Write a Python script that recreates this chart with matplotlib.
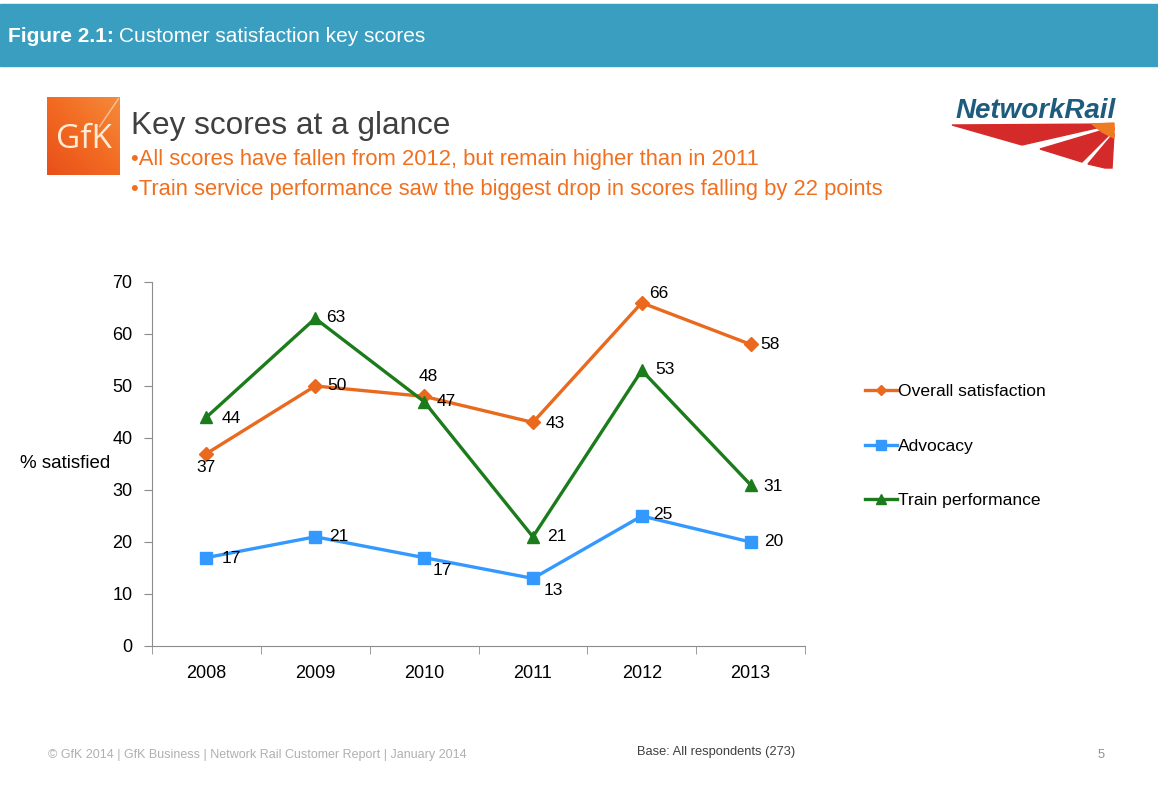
import numpy as np
import matplotlib.pyplot as plt
from matplotlib.patches import Rectangle, Polygon
from matplotlib.colors import LinearSegmentedColormap

plt.rcParams['font.family'] = ['Liberation Sans', 'DejaVu Sans']

years = ['2008', '2009', '2010', '2011', '2012', '2013']
overall = [37, 50, 48, 43, 66, 58]
advocacy = [17, 21, 17, 13, 25, 20]
train = [44, 63, 47, 21, 53, 31]

# label offsets (points) for each value
overall_off = [(0, -10), (16, 0), (3, 14), (16, -1), (12, 7), (14, 0)]
advocacy_off = [(18, -1), (17, 0), (13, -9), (15, -9), (15, 1), (17, 0)]
train_off = [(18, -1), (15, 1), (16, 0), (17, 0), (17, 1), (16, -1)]

orange = '#E9691E'
blue = '#3399FF'
green = '#1C7C1C'
grey = '#8C8C8C'

fig = plt.figure(figsize=(11.58, 8), dpi=100)


def fx(px):
    return px / 1158


def fy(py):
    return 1 - py / 800


# header bar
fig.patches.append(Rectangle((0, fy(66)), 1, 62 / 800, transform=fig.transFigure,
                             color='#3A9EC0', zorder=0))
fig.text(fx(8), fy(36), 'Figure 2.1:', color='white', fontsize=15,
         fontweight='bold', va='center')
fig.text(fx(119), fy(36), 'Customer satisfaction key scores', color='white',
         fontsize=15, va='center')

# GfK logo: orange square with a diagonal gradient
logo = fig.add_axes([fx(47), fy(175), 73 / 1158, 78 / 800])
gx, gy = np.meshgrid(np.linspace(0, 1, 60), np.linspace(0, 1, 60))
cmap = LinearSegmentedColormap.from_list('gfk', ['#E8501A', '#F26A22', '#F58A3A'])
logo.imshow(gx * 0.5 + gy * 0.5, cmap=cmap, origin='lower', extent=(0, 1, 0, 1),
            aspect='auto')
logo.plot([0.72, 0.98], [0.62, 0.98], color='#FBD2B0', lw=1, alpha=0.8)
logo.text(0.5, 0.46, 'GfK', color='#FDEBD5', fontsize=24, ha='center', va='center',
          family=['Open Sans', 'DejaVu Sans'])
logo.set_xlim(0, 1)
logo.set_ylim(0, 1)
logo.axis('off')

# headline
fig.text(fx(131), fy(126), 'Key scores at a glance', color='#404040',
         fontsize=22.7, va='center')
fig.text(fx(131), fy(160),
         '•All scores have fallen from 2012, but remain higher than in 2011',
         color='#F07020', fontsize=15.8, va='center')
fig.text(fx(131), fy(189),
         '•Train service performance saw the biggest drop in scores falling by 22 points',
         color='#F07020', fontsize=15.8, va='center')

# Network Rail logo
fig.text(fx(1036), fy(111), 'NetworkRail', color='#1D5C7C', fontsize=20,
         fontweight='bold', fontstyle='italic', ha='center', va='center')
swoosh = [
    [(952, 125), (1114, 124), (1022, 145)],
    [(1040, 149), (1114, 127), (1114, 130), (1082, 162)],
    [(1088, 164), (1114, 133), (1112, 168), (1105, 168)],
]
for pts in swoosh:
    fig.patches.append(Polygon([(fx(x), fy(y)) for x, y in pts], closed=True,
                               transform=fig.transFigure, color='#D42A2A', zorder=1))
fig.patches.append(Polygon([(fx(1092), fy(124)), (fx(1114), fy(123)), (fx(1114), fy(138)),
                            (fx(1102), fy(132))], closed=True, transform=fig.transFigure,
                           color='#EE7A22', zorder=2))

# chart
ax = fig.add_axes([fx(152), 154 / 800, 653 / 1158, 364 / 800])
x = list(range(len(years)))
ax.plot(x, overall, color=orange, lw=2.4, marker='D', ms=7, label='Overall satisfaction')
ax.plot(x, advocacy, color=blue, lw=2.4, marker='s', ms=9, label='Advocacy')
ax.plot(x, train, color=green, lw=2.4, marker='^', ms=9, label='Train performance')

for vals, offs in [(overall, overall_off), (advocacy, advocacy_off), (train, train_off)]:
    for i, (v, o) in enumerate(zip(vals, offs)):
        ax.annotate(str(v), (i, v), xytext=o, textcoords='offset points',
                    ha='center', va='center', fontsize=12.5, color='black')

ax.set_xlim(-0.5, 5.5)
ax.set_ylim(0, 70)
ax.set_yticks(range(0, 71, 10))
ax.set_xticks(x)
ax.set_xticklabels(years)
ax.set_xticks([i - 0.5 for i in range(7)], minor=True)
ax.tick_params(axis='x', which='major', length=0, pad=14, labelsize=13)
ax.tick_params(axis='x', which='minor', length=6, color=grey, direction='out')
ax.tick_params(axis='y', length=6, color=grey, labelsize=13, pad=8)
for s in ['top', 'right']:
    ax.spines[s].set_visible(False)
for s in ['left', 'bottom']:
    ax.spines[s].set_color(grey)

fig.text(fx(20), fy(463), '% satisfied', fontsize=13.5, va='center')

ax.legend(loc='upper left', bbox_to_anchor=(fx(858), fy(377)),
          bbox_transform=fig.transFigure, frameon=False, fontsize=12.6,
          handlelength=1.8, handletextpad=0.1, labelspacing=2.25, borderaxespad=0,
          markerscale=0.8)

# footer
fig.text(fx(48), fy(755),
         '© GfK 2014 | GfK Business | Network Rail Customer Report | January 2014',
         color='#B0B0B0', fontsize=9, va='center')
fig.text(fx(637), fy(752), 'Base: All respondents (273)', color='#404040',
         fontsize=9.3, va='center')
fig.text(fx(1098), fy(755), '5', color='#909090', fontsize=9.3, va='center')

fig.savefig('out.png', dpi=100)
